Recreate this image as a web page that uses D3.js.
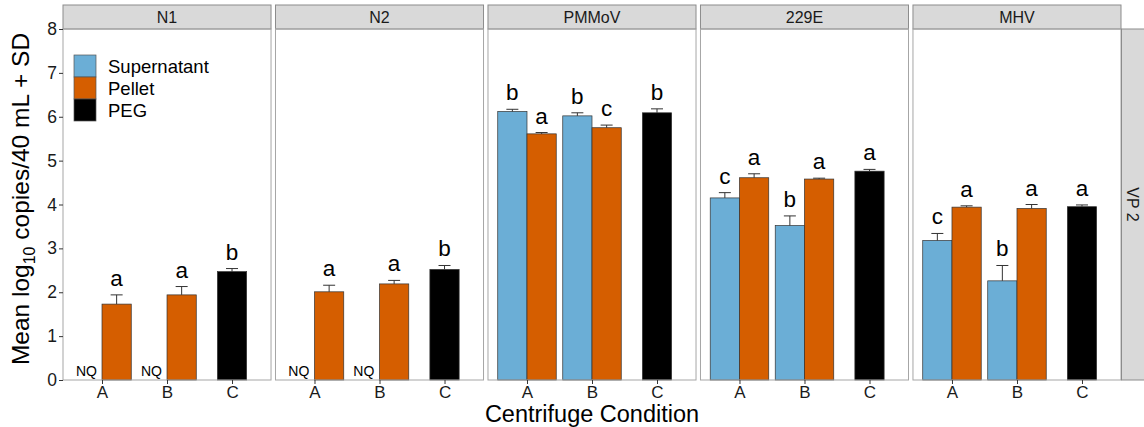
<!DOCTYPE html>
<html>
<head>
<meta charset="utf-8">
<title>Mean log10 copies by centrifuge condition</title>
<style>
  body { margin: 0; background: #fff; }
  text { font-family: "Liberation Sans", Arial, sans-serif; }
</style>
</head>
<body>
<script src="https://cdn.jsdelivr.net/npm/d3@7"></script>
<script>

// facets, x categories and fill groups
var targets = ["N1", "N2", "PMMoV", "229E", "MHV"];
var conditions = ["A", "B", "C"];
var methods = ["Supernatant", "Pellet", "PEG"];
var methodColors = ["#6baed6", "#d55e00", "#000000"];

// per target: values for condition A and B (null = not quantified)
var supMean = [[null, null], [null, null], [6.12, 6.02], [4.15, 3.52], [3.18, 2.26]];
var supSd   = [[null, null], [null, null], [0.05, 0.07], [0.12, 0.22], [0.16, 0.35]];
var supLetter = [["", ""], ["", ""], ["b", "b"], ["c", "b"], ["c", "b"]];

var pelMean = [[1.73, 1.94], [2.01, 2.19], [5.61, 5.75], [4.61, 4.58], [3.94, 3.91]];
var pelSd   = [[0.21, 0.19], [0.15, 0.08], [0.03, 0.06], [0.09, 0.02], [0.03, 0.09]];
var pelLetter = [["a", "a"], ["a", "a"], ["a", "c"], ["a", "a"], ["a", "a"]];

// PEG only used at condition C
var pegMean = [2.47, 2.52, 6.09, 4.76, 3.95];
var pegSd   = [0.07, 0.09, 0.09, 0.04, 0.04];
var pegLetter = ["b", "b", "b", "a", "a"];

var yTicks = [0, 1, 2, 3, 4, 5, 6, 7, 8];

var W = 1144, H = 427;
var plotTop = 29, plotBottom = 380;

var svg = d3.select("body").append("svg")
    .attr("width", W)
    .attr("height", H);

var facet = d3.scaleBand().domain(targets).range([63, 1121]).paddingInner(0.021).paddingOuter(0);
var pw = facet.bandwidth();
var x = d3.scalePoint().domain(conditions).range([0, pw]).padding(0.6);
var y = d3.scaleLinear().domain([0, 8]).range([plotBottom, plotTop]);
var barW = x.step() * 0.45;

// build rows for each bar
var bars = [];
targets.forEach(function(t, i) {
  ["A", "B"].forEach(function(c, j) {
    bars.push({t: i, cond: c, m: 0, mean: supMean[i][j], sd: supSd[i][j], letter: supLetter[i][j], off: -barW});
    bars.push({t: i, cond: c, m: 1, mean: pelMean[i][j], sd: pelSd[i][j], letter: pelLetter[i][j], off: 0});
  });
  bars.push({t: i, cond: "C", m: 2, mean: pegMean[i], sd: pegSd[i], letter: pegLetter[i], off: -barW / 2});
});

targets.forEach(function(t, i) {
  var g = svg.append("g").attr("transform", "translate(" + facet(t) + ",0)");

  // strip
  g.append("rect")
    .attr("x", 0).attr("y", 5)
    .attr("width", pw).attr("height", plotTop - 5)
    .attr("fill", "#d9d9d9").attr("stroke", "#8c8c8c").attr("stroke-width", 1);
  g.append("text")
    .attr("x", pw / 2).attr("y", 23)
    .attr("text-anchor", "middle")
    .attr("font-size", 16).attr("fill", "#1a1a1a")
    .text(t);

  var rows = bars.filter(function(d) { return d.t === i; });

  rows.forEach(function(d) {
    var bx = x(d.cond) + d.off;
    if (d.mean === null) {
      g.append("text")
        .attr("x", bx + barW / 2 - 1).attr("y", plotBottom - 4)
        .attr("text-anchor", "middle")
        .attr("font-size", 14).attr("fill", "#000")
        .text("NQ");
      return;
    }
    g.append("rect")
      .attr("x", bx).attr("y", y(d.mean))
      .attr("width", barW).attr("height", plotBottom - y(d.mean))
      .attr("fill", methodColors[d.m])
      .attr("stroke", "#333").attr("stroke-width", 0.7);

    var cx = bx + barW / 2;
    var errTop = y(d.mean + d.sd);
    g.append("line")
      .attr("x1", cx).attr("x2", cx)
      .attr("y1", y(d.mean)).attr("y2", errTop)
      .attr("stroke", "#333").attr("stroke-width", 1);
    g.append("line")
      .attr("x1", cx - 6).attr("x2", cx + 6)
      .attr("y1", errTop).attr("y2", errTop)
      .attr("stroke", "#333").attr("stroke-width", 1);

    g.append("text")
      .attr("x", cx).attr("y", errTop - 9)
      .attr("text-anchor", "middle")
      .attr("font-size", 22.5).attr("fill", "#000")
      .text(d.letter);
  });

  // panel border
  g.append("rect")
    .attr("x", 0).attr("y", plotTop)
    .attr("width", pw).attr("height", plotBottom - plotTop)
    .attr("fill", "none").attr("stroke", "#a6a6a6").attr("stroke-width", 1);

  // x axis
  var xa = g.append("g")
    .attr("transform", "translate(0," + plotBottom + ")")
    .call(d3.axisBottom(x).tickSize(4).tickPadding(2));
  xa.select(".domain").remove();
  xa.selectAll("line").attr("stroke", "#333");
  xa.selectAll("text")
    .attr("font-size", 17).attr("fill", "#1a1a1a")
    .style("font-family", "Liberation Sans, Arial, sans-serif");
});

// y axis
var ya = svg.append("g")
  .attr("transform", "translate(63,0)")
  .call(d3.axisLeft(y).tickValues(yTicks).tickFormat(d3.format("d")).tickSize(4).tickPadding(2));
ya.select(".domain").remove();
ya.selectAll("line").attr("stroke", "#333");
ya.selectAll("text")
  .attr("font-size", 17.5).attr("fill", "#1a1a1a")
  .style("font-family", "Liberation Sans, Arial, sans-serif");

// right strip
svg.append("rect")
  .attr("x", 1121.5).attr("y", plotTop)
  .attr("width", 30).attr("height", plotBottom - plotTop)
  .attr("fill", "#d9d9d9").attr("stroke", "#8c8c8c").attr("stroke-width", 1);
svg.append("text")
  .attr("transform", "translate(1127," + ((plotTop + plotBottom) / 2) + ") rotate(90)")
  .attr("text-anchor", "middle")
  .attr("font-size", 16).attr("fill", "#1a1a1a")
  .text("VP 2");

// axis titles
svg.append("text")
  .attr("x", (63 + 1121) / 2).attr("y", 422)
  .attr("text-anchor", "middle")
  .attr("font-size", 23.5).attr("fill", "#000")
  .text("Centrifuge Condition");

var yt = svg.append("text")
  .attr("transform", "translate(29,199) rotate(-90)")
  .attr("text-anchor", "middle")
  .attr("font-size", 24.5).attr("fill", "#000");
yt.append("tspan").text("Mean log");
yt.append("tspan").attr("font-size", 16).attr("dy", 6).text("10");
yt.append("tspan").attr("dy", -6).text(" copies/40 mL + SD");

// legend
var leg = svg.append("g").attr("transform", "translate(74,55)");
methods.forEach(function(m, i) {
  leg.append("rect")
    .attr("x", 0).attr("y", i * 22)
    .attr("width", 22).attr("height", 22)
    .attr("fill", methodColors[i])
    .attr("stroke", "#555").attr("stroke-width", 0.7);
  leg.append("text")
    .attr("x", 34).attr("y", i * 22 + 18)
    .attr("font-size", 18.5).attr("fill", "#000")
    .text(m);
});

</script>
</body>
</html>
